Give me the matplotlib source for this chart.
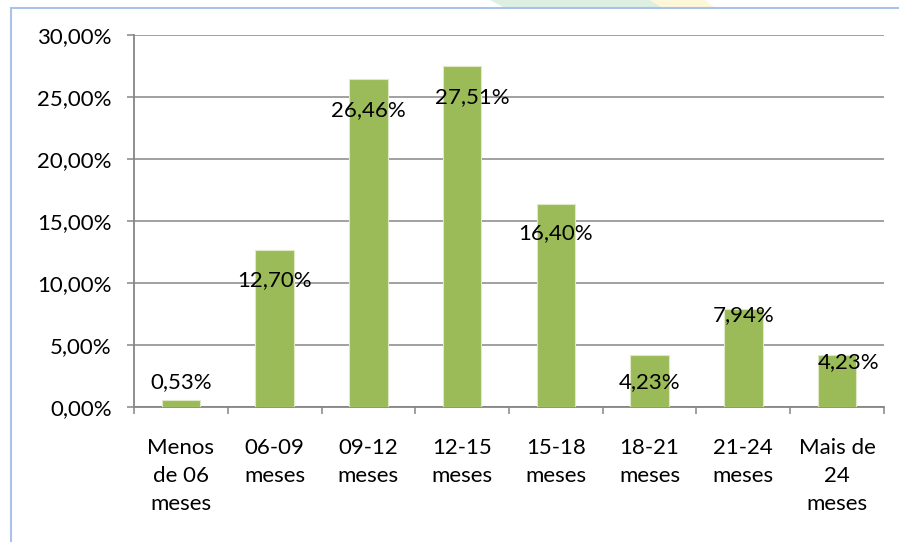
import matplotlib
matplotlib.use("Agg")
import matplotlib.pyplot as plt
from matplotlib.patches import Rectangle, Polygon
import numpy as np

# dados do gráfico
categorias = ["Menos\nde 06\nmeses", "06-09\nmeses", "09-12\nmeses", "12-15\nmeses",
              "15-18\nmeses", "18-21\nmeses", "21-24\nmeses", "Mais de\n24\nmeses"]
percentuais = [0.53, 12.70, 26.46, 27.51, 16.40, 4.23, 7.94, 4.23]
rotulos = ["0,53%", "12,70%", "26,46%", "27,51%", "16,40%", "4,23%", "7,94%", "4,23%"]
# posição dos rótulos (como o Excel colocou)
rotulo_y = [2.0, 10.25, 23.95, 25.0, 14.0, 2.0, 7.4, 3.6]
rotulo_dx = [0, 0, 0, 0.11, 0, 0, 0, 0.12]
yticks = [0, 5, 10, 15, 20, 25, 30]

plt.rcParams['font.family'] = ['Lato', 'DejaVu Sans']
FS = 16

fig = plt.figure(figsize=(8.99, 5.42), dpi=100)
W, H = 899, 542

# marca d'água fraca no topo e moldura azul clara
fig.patches.append(Polygon([(490 / W, 1), (505 / W, 1 - 8 / H), (663 / W, 1 - 8 / H), (650 / W, 1)],
                           closed=True, transform=fig.transFigure, facecolor='#dcefe2', edgecolor='none'))
fig.patches.append(Polygon([(650 / W, 1), (663 / W, 1 - 8 / H), (715 / W, 1 - 8 / H), (705 / W, 1)],
                           closed=True, transform=fig.transFigure, facecolor='#fdf6d8', edgecolor='none'))
fig.patches.append(Rectangle((10.5 / W, -0.1), 1.2, 1 - 8 / H + 0.1, transform=fig.transFigure,
                             fill=False, edgecolor='#a9c2ea', linewidth=1.5))

ax = fig.add_axes([134 / W, 1 - 407 / H, (884 - 134) / W, (407 - 35) / H])
x = np.arange(len(categorias))
ax.bar(x, percentuais, width=0.41, color='#9bbb59', edgecolor='#dfe9c8', linewidth=0.8, zorder=3)

for i, txt in enumerate(rotulos):
    ax.text(x[i] + rotulo_dx[i], rotulo_y[i], txt, ha='center', va='center',
            fontsize=FS, color='black', zorder=4)

ax.set_xlim(-0.5, len(categorias) - 0.5)
ax.set_ylim(0, 30)
ax.set_yticks(yticks)
ax.set_yticklabels([f"{v:.2f}".replace('.', ',') + "%" for v in yticks], fontsize=FS)
ax.grid(axis='y', color='#868686', linewidth=1.1, zorder=0)

ax.set_xticks(x)
ax.set_xticklabels(categorias, fontsize=FS, linespacing=1.5, va='top')
ax.set_xticks(np.arange(-0.5, len(categorias)), minor=True)
ax.tick_params(axis='x', which='major', length=0, pad=22)
ax.tick_params(axis='x', which='minor', length=5, width=1.1, color='#868686', direction='out')
ax.tick_params(axis='y', length=5, width=1.1, color='#868686', pad=11)

for s in ['top', 'right']:
    ax.spines[s].set_visible(False)
for s in ['left', 'bottom']:
    ax.spines[s].set_color('#868686')
    ax.spines[s].set_linewidth(1.3)

fig.savefig('out.png', dpi=100)
